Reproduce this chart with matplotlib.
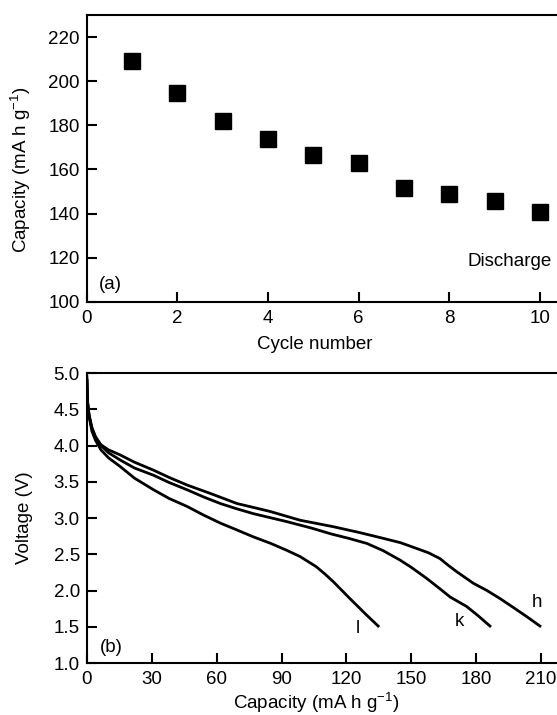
import matplotlib
matplotlib.use("Agg")
import matplotlib.pyplot as plt

plt.rcParams['font.family'] = ['Liberation Sans', 'DejaVu Sans']
plt.rcParams['mathtext.fontset'] = 'custom'
plt.rcParams['mathtext.rm'] = 'Liberation Sans'

# (a) discharge capacity vs cycle
cycles = [1, 2, 3, 4, 5, 6, 7, 8, 9, 10]
capacity = [209, 194.5, 182, 174, 166.5, 163, 151.5, 149, 145.5, 140.5]

# (b) discharge curves
cap_h = [0, 0.3, 1, 2.3, 4, 6.5, 10, 15.4, 22, 30.8, 38, 46.3, 57, 69.4, 84.8, 98.5, 114, 126, 137, 145, 152.5, 158, 163.3, 167, 171, 178.7, 185, 191, 197, 203.4, 209.5]
volt_h = [4.95, 4.6, 4.42, 4.25, 4.12, 4.01, 3.94, 3.87, 3.77, 3.66, 3.56, 3.455, 3.34, 3.20, 3.09, 2.97, 2.88, 2.80, 2.72, 2.66, 2.58, 2.52, 2.44, 2.35, 2.26, 2.10, 2.00, 1.89, 1.77, 1.64, 1.51]
cap_k = [0, 0.3, 1, 2.3, 4, 6.5, 10, 15.4, 22, 30.8, 38, 46.3, 54, 61.7, 69, 77, 92.5, 104, 113, 121, 129.4, 137, 144.8, 150, 157, 163, 168, 175.6, 181, 186.4]
volt_k = [4.9, 4.6, 4.42, 4.24, 4.11, 4.0, 3.9, 3.80, 3.69, 3.59, 3.49, 3.39, 3.29, 3.20, 3.13, 3.06, 2.95, 2.86, 2.78, 2.72, 2.65, 2.55, 2.42, 2.32, 2.17, 2.03, 1.91, 1.78, 1.65, 1.51]
cap_l = [0, 0.3, 1, 2.3, 4, 6.5, 10, 15.4, 22, 30.8, 38, 46.3, 54, 61.7, 69, 77, 85, 92, 98.5, 106, 110, 114, 121.6, 129.4, 134.7]
volt_l = [4.9, 4.6, 4.4, 4.2, 4.07, 3.94, 3.83, 3.71, 3.55, 3.39, 3.27, 3.16, 3.04, 2.93, 2.84, 2.74, 2.65, 2.56, 2.47, 2.33, 2.23, 2.12, 1.89, 1.66, 1.51]

curve_labels = ['h', 'k', 'l']
label_pos = [(208.3, 1.83), (172.2, 1.57), (125.2, 1.48)]

FS = 13.5

fig = plt.figure(figsize=(5.57, 7.15), dpi=100)


def style_axes(ax):
    ax.tick_params(direction='in', length=7.5, width=1.5, labelsize=FS,
                   top=False, right=False)
    ax.tick_params(axis='x', pad=6)
    ax.tick_params(axis='y', pad=5)
    for s in ax.spines.values():
        s.set_linewidth(1.5)
    ax.xaxis.label.set_verticalalignment('baseline')


# top panel
ax1 = fig.add_axes([0.156, 0.578, 0.858, 0.401])
ax1.plot(cycles, capacity, 's', color='black', markersize=12)
ax1.set_xlim(0, 10.55)
ax1.set_ylim(100, 230)
ax1.set_xticks([0, 2, 4, 6, 8, 10])
ax1.set_yticks([100, 120, 140, 160, 180, 200, 220])
ax1.set_xlabel("Cycle number", fontsize=FS)
ax1.set_ylabel(r"Capacity (mA h g$^{-1}$)", fontsize=FS)
style_axes(ax1)
ax1.xaxis.set_label_coords(0.476, -0.164)
ax1.yaxis.set_label_coords(-0.113, 0.46)
ax1.text(0.26, 107.7, "(a)", fontsize=FS, va='center')
ax1.text(8.41, 116, "Discharge", fontsize=FS, va='baseline')

# bottom panel
ax2 = fig.add_axes([0.156, 0.0727, 0.858, 0.4056])
ax2.plot(cap_h, volt_h, color='black', lw=2, solid_joinstyle='round')
ax2.plot(cap_k, volt_k, color='black', lw=2, solid_joinstyle='round')
ax2.plot(cap_l, volt_l, color='black', lw=2, solid_joinstyle='round')
ax2.set_xlim(0, 221)
ax2.set_ylim(1.0, 5.0)
ax2.set_xticks([0, 30, 60, 90, 120, 150, 180, 210])
ax2.set_yticks([1.0, 1.5, 2.0, 2.5, 3.0, 3.5, 4.0, 4.5, 5.0])
ax2.set_yticklabels(["1.0", "1.5", "2.0", "2.5", "3.0", "3.5", "4.0", "4.5", "5.0"])
ax2.set_xlabel(r"Capacity (mA h g$^{-1}$)", fontsize=FS)
ax2.set_ylabel("Voltage (V)", fontsize=FS)
style_axes(ax2)
ax2.xaxis.set_label_coords(0.481, -0.158)
ax2.yaxis.set_label_coords(-0.113, 0.5)
ax2.text(6.2, 1.22, "(b)", fontsize=FS, va='center')
for lab, (x, y) in zip(curve_labels, label_pos):
    ax2.text(x, y, lab, fontsize=FS, ha='center', va='center')

fig.savefig("out.png", dpi=100)
